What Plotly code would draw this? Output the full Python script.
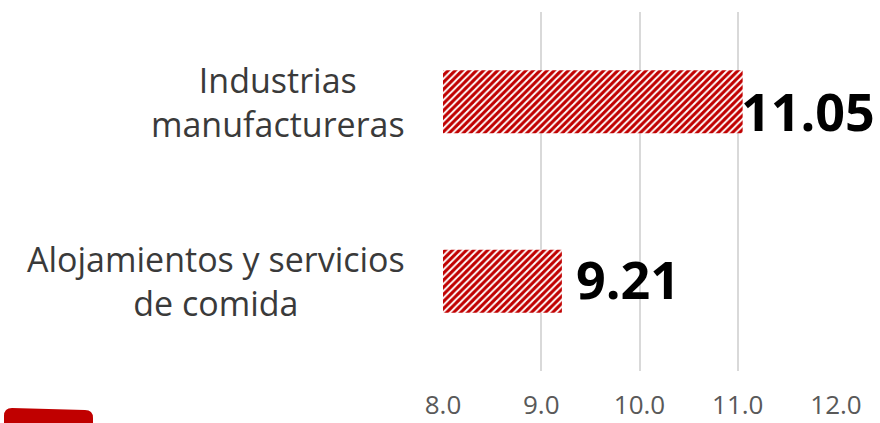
import plotly.graph_objects as go

categories = ["Alojamientos y servicios<br>de comida", "Industrias<br>manufactureras"]
values = [9.21, 11.05]
value_labels = ["9.21", "11.05"]
tick_vals = [8, 9, 10, 11, 12]
tick_text = ["8.0", "9.0", "10.0", "11.0", "12.0"]

# label styling offsets (pixels)
label_xshift = [12, -4]
label_yshift = [3, -9]

RED = "#C00000"
FONT = "Open Sans"

fig = go.Figure()
fig.add_trace(go.Bar(
    x=values, y=categories, orientation="h", width=0.35,
    marker=dict(color="white", line=dict(width=0),
                pattern=dict(shape="/", fgcolor=RED, bgcolor="white",
                             size=5, solidity=0.62, fillmode="replace")),
    hoverinfo="skip", showlegend=False,
))

annotations = []
for i, (c, v, t) in enumerate(zip(categories, values, value_labels)):
    annotations.append(dict(
        x=v, y=c, xref="x", yref="y", text=f"<b>{t}</b>", showarrow=False,
        xanchor="left", yanchor="middle", xshift=label_xshift[i], yshift=label_yshift[i],
        font=dict(family=FONT, size=52, color="#000000"),
    ))
    annotations.append(dict(
        x=0, y=c, xref="paper", yref="y", text=c, showarrow=False,
        xanchor="right", yanchor="middle", xshift=-36, align="center",
        font=dict(family=FONT, size=34, color="#3A3A3A"),
    ))

ML, MR, MT, MB = 443, 44, 12, 52
W, H = 880, 423

# decorative red tab at bottom-left (placed in paper coordinates)
pw = W - ML - MR
ph = H - MT - MB
def px_to_paper(px, py):
    return (px - ML) / pw, (H - MB - py) / ph
x0, y0 = px_to_paper(4, 430)
x1, y1 = px_to_paper(93, 408)
r = 8 / pw
ry = 8 / ph
d = 2 / ph
path = (f"M {x0},{y0} L {x0},{y1 - ry} Q {x0},{y1} {x0 + r},{y1} "
        f"L {x1 - r},{y1 - d} Q {x1},{y1 - d} {x1},{y1 - ry - d} L {x1},{y0} Z")

fig.update_layout(
    width=W, height=H,
    margin=dict(l=ML, r=MR, t=MT, b=MB, autoexpand=False),
    paper_bgcolor="white", plot_bgcolor="white",
    annotations=annotations,
    shapes=[dict(type="path", xref="paper", yref="paper", path=path,
                 fillcolor=RED, line=dict(width=0), layer="above")],
    xaxis=dict(range=[8, 12], tickvals=tick_vals, ticktext=tick_text,
               showgrid=True, gridcolor="#D9D9D9", gridwidth=2,
               zeroline=False, showline=False, ticks="", automargin=False,
               tickfont=dict(family=FONT, size=26, color="#595959"),
               ticklabelstandoff=16),
    yaxis=dict(showticklabels=False, showgrid=False, zeroline=False,
               showline=False, ticks="", range=[-0.5, 1.5], automargin=False),
)

fig.write_html("out.html", post_script="document.body.style.margin='0px';",
               config={"displayModeBar": False})
